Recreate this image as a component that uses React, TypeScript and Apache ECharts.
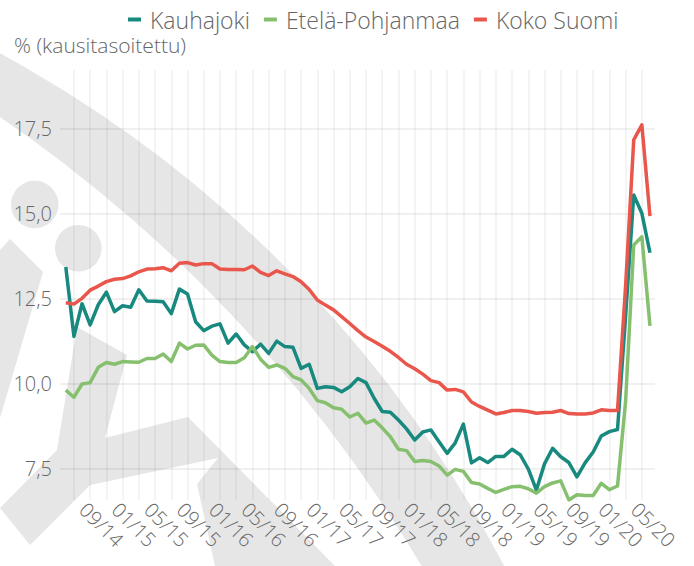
import React, { useEffect, useRef } from "react";
import * as echarts from "echarts";

const months = [
  "06/14","07/14","08/14","09/14","10/14","11/14","12/14",
  "01/15","02/15","03/15","04/15","05/15","06/15","07/15","08/15","09/15","10/15","11/15","12/15",
  "01/16","02/16","03/16","04/16","05/16","06/16","07/16","08/16","09/16","10/16","11/16","12/16",
  "01/17","02/17","03/17","04/17","05/17","06/17","07/17","08/17","09/17","10/17","11/17","12/17",
  "01/18","02/18","03/18","04/18","05/18","06/18","07/18","08/18","09/18","10/18","11/18","12/18",
  "01/19","02/19","03/19","04/19","05/19","06/19","07/19","08/19","09/19","10/19","11/19","12/19",
  "01/20","02/20","03/20","04/20","05/20","06/20"
];

const xTickLabels = [
  "09/14","01/15","05/15","09/15","01/16","05/16","09/16","01/17","05/17",
  "09/17","01/18","05/18","09/18","01/19","05/19","09/19","01/20","05/20"
];

const yTicks = [7.5, 10, 12.5, 15, 17.5];

const kauhajoki = [
  13.44, 11.40, 12.36, 11.74, 12.33, 12.70, 12.13, 12.30, 12.26, 12.77,
  12.44, 12.43, 12.42, 12.07, 12.79, 12.65, 11.83, 11.57, 11.70, 11.77,
  11.20, 11.47, 11.15, 10.95, 11.17, 10.90, 11.26, 11.10, 11.08, 10.46,
  10.58, 9.87, 9.92, 9.90, 9.77, 9.92, 10.16, 10.04, 9.58, 9.19,
  9.17, 8.94, 8.68, 8.35, 8.59, 8.65, 8.30, 7.96, 8.27, 8.82,
  7.68, 7.83, 7.69, 7.87, 7.87, 8.08, 7.92, 7.50, 6.88, 7.65,
  8.11, 7.86, 7.69, 7.27, 7.68, 8.00, 8.47, 8.60, 8.66, 12.0,
  15.56, 15.02, 13.86
];

const etelaPohjanmaa = [
  9.82, 9.61, 10.00, 10.04, 10.49, 10.63, 10.58, 10.66, 10.65, 10.64,
  10.75, 10.75, 10.88, 10.66, 11.20, 11.03, 11.14, 11.15, 10.85, 10.66,
  10.63, 10.63, 10.77, 11.10, 10.73, 10.49, 10.56, 10.46, 10.22, 10.12,
  9.87, 9.51, 9.45, 9.30, 9.26, 9.03, 9.14, 8.85, 8.94, 8.71,
  8.45, 8.08, 8.04, 7.72, 7.75, 7.72, 7.59, 7.32, 7.49, 7.43,
  7.10, 7.06, 6.93, 6.81, 6.90, 6.98, 6.99, 6.92, 6.79, 6.98,
  7.09, 7.15, 6.59, 6.74, 6.72, 6.72, 7.08, 6.89, 7.00, 9.5,
  14.09, 14.33, 11.71
];

const kokoSuomi = [
  12.39, 12.35, 12.52, 12.76, 12.88, 13.01, 13.08, 13.10, 13.18, 13.30,
  13.38, 13.39, 13.42, 13.33, 13.55, 13.57, 13.50, 13.54, 13.54, 13.38,
  13.37, 13.37, 13.36, 13.47, 13.28, 13.19, 13.33, 13.24, 13.16, 13.01,
  12.78, 12.47, 12.32, 12.18, 11.98, 11.78, 11.57, 11.38, 11.25, 11.11,
  10.96, 10.78, 10.58, 10.45, 10.29, 10.10, 10.04, 9.82, 9.84, 9.77,
  9.47, 9.34, 9.23, 9.12, 9.16, 9.22, 9.22, 9.19, 9.14, 9.16,
  9.17, 9.22, 9.13, 9.12, 9.12, 9.15, 9.24, 9.22, 9.22, 12.9,
  17.18, 17.62, 14.94
];

const seriesNames = ["Kauhajoki", "Etelä-Pohjanmaa", "Koko Suomi"];
const seriesColors = ["#18897F", "#86C06F", "#E9564B"];

const FONT = "'Open Sans', 'Noto Sans', sans-serif";
const TEXT = "#666666";
const WM = "#e6e6e6";

export default function App() {
  const ref = useRef<HTMLDivElement>(null);

  useEffect(() => {
    document.body.style.margin = "0";
    if (!ref.current) return;
    const chart = echarts.init(ref.current, undefined, { renderer: "svg" });

    const labelIdx = xTickLabels.map((l) => months.indexOf(l));
    const gridIdx = months.map((_, i) => i).filter((i) => i % 2 === 1);
    const toPairs = (arr: number[]) => arr.map((v, i) => [i, v]);
    const allData = [kauhajoki, etelaPohjanmaa, kokoSuomi];

    chart.setOption({
      animation: false,
      backgroundColor: "#ffffff",
      textStyle: { fontFamily: FONT, fontWeight: 300 },
      title: {
        text: "% (kausitasoitettu)",
        left: 9,
        top: 29,
        textStyle: { fontFamily: FONT, fontSize: 21, fontWeight: 300, color: TEXT },
      },
      legend: {
        data: seriesNames,
        left: 123,
        top: 3,
        icon: "rect",
        itemWidth: 13,
        itemHeight: 4,
        itemGap: 14,
        textStyle: { fontFamily: FONT, fontSize: 23, fontWeight: 300, color: TEXT, padding: [0, 0, 0, 4] },
      },
      grid: { left: 60, right: 39, top: 70, bottom: 66, containLabel: false },
      xAxis: {
        type: "value",
        min: -0.715,
        max: 72.62,
        axisLine: { show: false },
        axisTick: { show: false, customValues: gridIdx },
        splitLine: { show: true, lineStyle: { color: "rgba(0,0,0,0.06)", width: 1.5 } },
        axisLabel: {
          customValues: labelIdx,
          rotate: -45,
          margin: -1,
          align: "left",
          verticalAlign: "top",
          fontFamily: FONT,
          fontSize: 20,
          fontWeight: 300,
          color: TEXT,
          formatter: (v: number) => months[Math.round(v)] ?? "",
        },
      },
      yAxis: {
        type: "value",
        min: 6.588,
        max: 19.235,
        axisLine: { show: false },
        axisTick: { show: false, customValues: yTicks },
        splitLine: { show: true, lineStyle: { color: "rgba(0,0,0,0.06)", width: 2 } },
        axisLabel: {
          customValues: yTicks,
          margin: 8,
          fontFamily: FONT,
          fontSize: 20,
          fontWeight: 300,
          color: TEXT,
          formatter: (v: number) => v.toFixed(1).replace(".", ","),
        },
      },
      graphic: [
        { type: "circle", z: -10, silent: true, shape: { cx: -586.6, cy: 1134.5, r: 1230 }, style: { fill: WM } },
        { type: "circle", z: -9, silent: true, shape: { cx: -810, cy: 1300.5, r: 1434 }, style: { fill: "#ffffff" } },
        { type: "circle", z: -8, silent: true, shape: { cx: 34.7, cy: 204.5, r: 23.7 }, style: { fill: WM } },
        { type: "circle", z: -8, silent: true, shape: { cx: 78.3, cy: 248.3, r: 23.3 }, style: { fill: WM } },
        {
          type: "polygon", z: -8, silent: true,
          shape: { points: [[0, 250], [10, 239], [43, 272], [0, 418]] },
          style: { fill: WM },
        },
        {
          type: "polygon", z: -8, silent: true,
          shape: {
            points: [
              [77, 327], [127, 355], [105, 438], [188, 417], [335, 566], [215, 566],
              [197, 484], [218, 458], [90, 485], [30, 545], [0, 508], [57, 450],
            ],
          },
          style: { fill: WM },
        },
      ],
      series: seriesNames.map((name, k) => ({
        name,
        type: "line",
        data: toPairs(allData[k]),
        showSymbol: false,
        symbol: "none",
        color: seriesColors[k],
        lineStyle: { width: 3.5, color: seriesColors[k], join: "round" },
        emphasis: { disabled: true },
      })),
    });

    return () => chart.dispose();
  }, []);

  return (
    <div
      ref={ref}
      style={{ position: "fixed", left: 0, top: 0, width: 694, height: 566 }}
    />
  );
}
